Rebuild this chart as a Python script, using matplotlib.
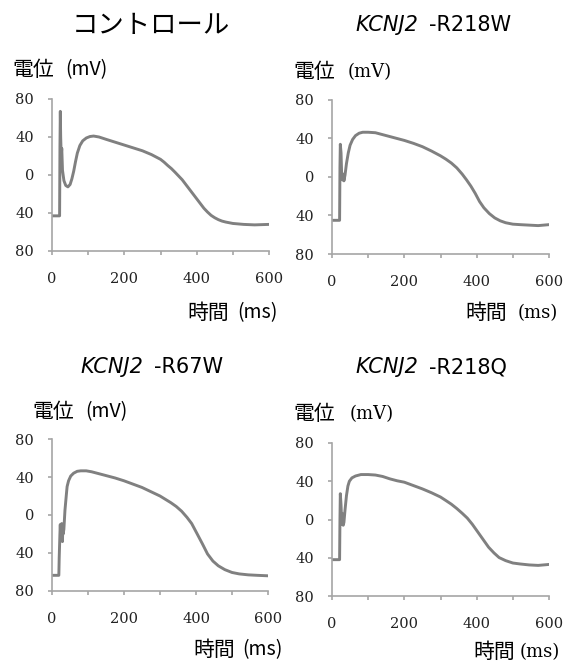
import matplotlib
matplotlib.use("Agg")
import matplotlib.pyplot as plt

# action potential traces (ms, mV)
t_ctrl = [0, 21, 22, 23, 24, 25.5, 27, 29, 33, 38, 44, 50, 55, 60, 65, 70, 77, 85, 95, 105, 115,
          130, 150, 175, 200, 225, 250, 275, 300,
          310, 320, 330, 340, 350, 360, 370, 380, 390, 400, 410, 420, 430, 440, 450, 460, 470, 480,
          500, 530, 560, 600]
v_ctrl = [-43, -43, 30, 67, 40, 20, 28, 5, -6, -11, -12.5, -10, -4, 4, 14, 23, 31, 36, 39, 40.5, 41,
          40, 37.5, 34.5, 31.5, 28.5, 25.5, 21.5, 16.5,
          13.5, 10, 6.8, 3, -1, -5, -10, -15, -20, -25, -30, -35, -39, -42.5, -45, -47, -48.5, -49.5,
          -51, -52, -52.5, -52]

t_218w = [0, 21, 22, 23, 25, 27, 29, 31, 33, 36, 40, 45, 50, 57, 65, 75, 85, 100, 120, 140, 160,
          180, 200, 225, 250, 275,
          300, 315, 330, 345, 360, 372, 384, 396, 408, 420, 435, 450, 465, 480, 500, 520, 545,
          570, 600]
v_218w = [-45, -45, 10, 34, 25, -1, -3, 3, -4, 2, 14, 25, 33, 39, 43, 45.5, 46.5, 46.5, 46, 44, 42,
          40, 38, 35, 31.5, 27,
          22, 18.5, 14.5, 9.5, 3, -3, -9.5, -17, -25.5, -32, -38, -42.5, -45.5, -47.5, -49, -49.5,
          -50, -50.5, -49.5]

t_67w = [0, 19, 20, 22, 23, 24, 25, 26, 27, 28, 29, 30, 31, 33, 36, 40, 42, 46, 52, 60, 70, 80,
         95, 110, 130, 150, 175, 200, 225, 250, 275,
         300, 315, 330, 345, 360, 375, 388, 402, 418, 432, 447, 462, 480, 500, 520, 545, 570, 600]
v_67w = [-63.5, -63.5, -45, -20, -10, -22, -27, -12, -9, -26, -28, -14, -20, -15, 5, 22, 30, 36,
         41, 44, 46, 46.5, 46.5, 45.5, 43.5, 41.5, 39, 36, 32.5, 29, 24.5,
         20, 16.5, 13, 9, 4, -2.5, -9, -19, -30.5, -41, -48.5, -53.5, -57.5, -60.5, -62, -63,
         -63.5, -64]

t_218q = [0, 21, 22, 23, 25, 27, 29, 31, 33, 36, 40, 44, 48, 55, 65, 80, 100, 120, 140, 160, 180,
          200, 225, 250, 275,
          300, 315, 330, 345, 360, 374, 388, 403, 418, 433, 448, 462, 480, 500, 520, 545, 570, 600]
v_218q = [-42, -42, 0, 27, 15, -5, 6, -6, -3, 10, 25, 35, 40, 43.5, 45.5, 47, 47, 46.5, 45, 42.5,
          40.5, 39, 35.5, 32, 28,
          23.5, 19.8, 16, 11.5, 6.5, 1.5, -5, -13, -21, -29, -35, -39.8, -43, -45.5, -46.5, -47.5,
          -48, -47]

xticks = [0, 100, 200, 300, 400, 500, 600]
xticklabels = ["0", "", "200", "", "400", "", "600"]
yticks = [80, 40, 0, -40, -80]
yticklabels = ["80", "40", "0", "40", "80"]

W, H = 564, 663
fig = plt.figure(figsize=(W / 100, H / 100), dpi=100)

def fx(px):
    return px / W

def fy(py):
    return 1 - py / H

cjk = "Noto Sans CJK JP"
serif = "DejaVu Serif"
line_col = "#808080"
axis_col = "#a6a6a6"

def panel(l, t, r, b, tt, vv):
    ax = fig.add_axes([fx(l), fy(b), (r - l) / W, (b - t) / H])
    ax.plot(tt, vv, color=line_col, lw=2.1, solid_joinstyle="round")
    ax.set_xlim(0, 600)
    ax.set_ylim(-80, 80)
    ax.set_xticks(xticks)
    ax.set_xticklabels(xticklabels)
    ax.set_yticks(yticks)
    ax.set_yticklabels(yticklabels)
    for s in ["top", "right"]:
        ax.spines[s].set_visible(False)
    for s in ["left", "bottom"]:
        ax.spines[s].set_color(axis_col)
        ax.spines[s].set_linewidth(1.2)
    ax.tick_params(colors=axis_col, width=1.2, length=3, direction="out",
                   labelcolor="#222222", labelsize=10.5)
    ax.tick_params(axis="y", pad=10)
    ax.tick_params(axis="x", pad=12)
    for lab in ax.get_xticklabels() + ax.get_yticklabels():
        lab.set_family(serif)
    return ax

panel(52, 99, 269, 251, t_ctrl, v_ctrl)
panel(332, 100, 549, 254, t_218w, v_218w)
panel(52, 439, 268, 591, t_67w, v_67w)
panel(332, 443, 549, 596, t_218q, v_218q)

# titles
fig.text(fx(151), fy(25), "コントロール", family=cjk, fontsize=19, ha="center", va="center")

def gene_title(xsplit, y, suffix):
    fig.text(fx(xsplit), fy(y), "KCNJ2", family="DejaVu Sans", style="italic",
             fontsize=15, ha="right", va="center")
    fig.text(fx(xsplit + 11), fy(y), "-" + suffix, family="DejaVu Sans",
             fontsize=15, ha="left", va="center")

gene_title(418, 25, "R218W")
gene_title(143, 367, "R67W")
gene_title(418, 367, "R218Q")

def label(x_cjk, x_par, y, kanji, par, par_font, par_ha="left"):
    fig.text(fx(x_cjk), fy(y), kanji, family=cjk, fontsize=15, ha="left", va="center")
    fig.text(fx(x_par), fy(y), par, family=par_font, fontsize=13 if par_font == serif else 14,
             ha=par_ha, va="center")

# y-axis labels
label(12, 65, 70, "電位", "(mV)", cjk)
label(32, 85, 412, "電位", "(mV)", cjk)
label(293, 348, 72, "電位", "(mV)", serif)
label(293, 350, 414, "電位", "(mV)", serif)

# x-axis labels
label(187, 278, 313, "時間", "(ms)", cjk, "right")
label(193, 283, 650, "時間", "(ms)", cjk, "right")
label(465, 558, 313, "時間", "(ms)", serif, "right")
label(473, 560, 652, "時間", "(ms)", serif, "right")

fig.savefig("out.png", dpi=100)
